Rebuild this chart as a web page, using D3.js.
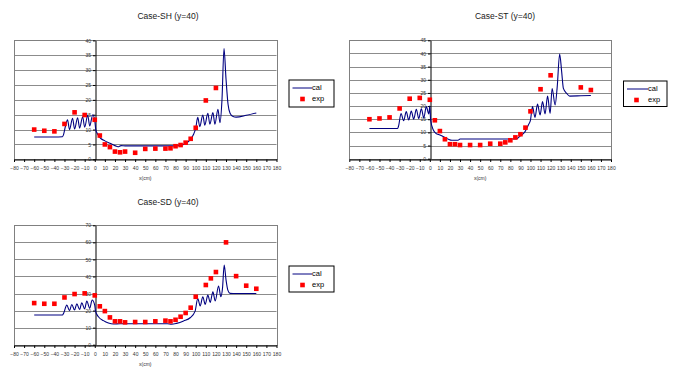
<!DOCTYPE html>
<html><head><meta charset="utf-8">
<script src="https://cdn.jsdelivr.net/npm/d3@7"></script>
<style>
body{margin:0;background:#fff}
svg{display:block;font-family:"Liberation Sans",Arial,sans-serif}
</style>
</head><body>
<svg id="chart" width="673" height="368"></svg>
<script>
// Shared axis ticks
const xTickValues = [-80,-70,-60,-50,-40,-30,-20,-10,0,10,20,30,40,50,60,70,80,90,100,110,120,130,140,150,160,170,180];
const shYTicks = [0,5,10,15,20,25,30,35,40];
const stYTicks = [0,5,10,15,20,25,30,35,40,45];
const sdYTicks = [0,10,20,30,40,50,60,70];

// Case-SH measured points
const shExpX = [-60,-50,-40,-30,-20,-10,0,5,10,15,20,25,30,40,50,60,70,75,80,85,90,95,100,110,120];
const shExpY = [10,9.6,9.4,11.9,15.8,14.9,13.3,8.0,5.0,4.1,2.6,2.35,2.6,2.2,3.5,3.6,3.6,3.7,4.4,4.8,5.6,6.9,10.6,19.8,24.0];
// Case-SH calculated profile
const shCalX = [-60,-40,-32,-31,-29,-27,-25,-22,-20,-17,-15,-12,-10,-7,-5,-2,0,1,2,4,6,10,15,20,23,26,30,60,80,85,90,95,98,100,102,104,107,109,112,114,117,119,122,124,126,128,130,132,134,137,140,150,160];
const shCalY = [7.5,7.5,7.6,8.2,11.2,13.3,10.0,13.8,10.2,14.0,10.5,14.3,10.8,14.8,11.2,15.0,13.0,10.0,9.0,7.8,7.0,6.2,5.4,4.6,4.2,4.6,4.5,4.5,4.5,4.7,5.3,6.8,8.5,10.5,14.1,11.0,14.9,11.5,15.5,11.8,15.7,11.8,16.8,12.3,20.0,37.3,27.0,18.5,15.5,14.4,14.2,14.8,15.6];

// Case-ST measured points
const stExpX = [-60,-50,-40,-30,-20,-10,0,5,10,15,20,25,30,40,50,60,70,75,80,85,90,95,100,110,120,150,160];
const stExpY = [15.0,15.3,15.7,19.1,22.8,23.1,22.4,14.6,10.5,7.4,5.5,5.5,5.2,5.2,5.2,5.7,5.7,6.2,7.0,8.1,9.3,11.8,18.0,26.4,31.7,27.1,26.1];
// Case-ST calculated profile
const stCalX = [-60,-32,-31,-28.6,-26,-23.4,-21,-18.4,-16,-13.4,-11,-8.4,-6,-3.5,-1,0,0.8,3.5,6,10,15,18.5,22,28,30,60,86,89.6,94.6,97.9,100,102,104.5,107,109.5,112,114.5,117,119.5,121.5,124.5,126.5,129,131,132.7,136,139,150,160];
const stCalY = [11.5,11.5,12.5,17.2,14.4,17.9,14.7,18.1,15.0,18.8,15.2,19.0,15.5,19.8,17.0,20.0,14.7,10.9,9.6,9.0,8.1,7.4,7.0,7.0,7.5,7.5,7.5,8.6,10.3,12.8,14.7,19.8,15.7,20.8,16.6,21.7,17.0,23.8,17.2,26.7,20.4,27.0,39.8,33.0,26.7,24.8,23.8,23.9,24.0];

// Case-SD measured points
const sdExpX = [-60,-50,-40,-30,-20,-10,0,5,10,15,20,25,30,40,50,60,70,75,80,85,90,95,100,110,115,120,130,140,150,160];
const sdExpY = [24.4,24.0,24.0,27.7,29.7,30.1,28.9,22.5,19.7,16.0,13.7,13.7,13.1,13.3,13.3,13.7,14.1,13.7,14.6,16.4,18.6,21.7,28.1,35.0,38.9,42.6,60.0,40.2,34.6,32.8];
// Case-SD calculated profile
const sdCalX = [-60,-32,-31,-27.7,-25,-22.8,-20,-17.8,-15,-12.9,-10,-7.9,-5,-2.6,0,0.7,3.6,8.6,13.5,18.5,25,60,72,76,81,88,94.5,99.4,102,104.4,107,109.4,112,114.3,117,119.3,122.6,124.9,126.5,128.2,130,131.8,134,140,150,160];
const sdCalY = [17.4,17.4,18.2,23.2,19.9,23.6,20.3,24.0,20.6,24.6,21.0,25.6,21.3,26.2,23.0,19.7,16.4,14.1,12.7,12.1,12.3,12.3,12.3,12.0,12.5,13.9,15.8,19.7,27.1,22.7,28.1,23.6,29.1,24.8,31.0,25.6,34.4,28.1,33.0,46.7,38.0,32.0,30.1,30.0,30.0,30.0];

const svg = d3.select("#chart");

function drawPanel(cfg) {
  const g = svg.append("g");
  const x = d3.scaleLinear().domain([-80, 180]).range([cfg.left, cfg.right]);
  const y = d3.scaleLinear().domain([0, cfg.yMax]).range([cfg.bottom, cfg.top]);

  // title
  g.append("text").attr("x", cfg.titleX).attr("y", cfg.titleY)
    .attr("text-anchor", "middle").attr("dominant-baseline", "middle")
    .attr("font-size", 8.5).attr("fill", "#1a1a1a").text(cfg.title);

  // horizontal gridlines
  g.append("g").selectAll("line").data(cfg.yTicks.filter(d => d > 0)).join("line")
    .attr("x1", cfg.left).attr("x2", cfg.right)
    .attr("y1", d => Math.round(y(d)) + 0.5).attr("y2", d => Math.round(y(d)) + 0.5)
    .attr("stroke", "#8c8c8c").attr("stroke-width", 1);

  // plot frame
  g.append("rect").attr("x", Math.round(cfg.left) + 0.5).attr("y", Math.round(cfg.top) + 0.5)
    .attr("width", Math.round(cfg.right) - Math.round(cfg.left))
    .attr("height", Math.round(cfg.bottom) - Math.round(cfg.top))
    .attr("fill", "none").attr("stroke", "#808080");

  // x axis along y = 0
  const xAxis = d3.axisBottom(x).tickValues(xTickValues).tickSize(2.5).tickPadding(4).tickSizeOuter(0);
  const xa = g.append("g").attr("transform", `translate(0,${Math.round(y(0)) + 0.5})`).call(xAxis);
  xa.select(".domain").attr("stroke", "#000");
  xa.selectAll(".tick line").attr("stroke", "#000");
  xa.selectAll(".tick text").attr("font-size", 5).attr("fill", "#333")
    .attr("font-family", "'Liberation Sans',Arial,sans-serif");

  // y axis along x = 0
  const yAxis = d3.axisLeft(y).tickValues(cfg.yTicks).tickSize(2.5).tickPadding(2).tickSizeOuter(0);
  const ya = g.append("g").attr("transform", `translate(${Math.round(x(0)) + 0.5},0)`).call(yAxis);
  ya.select(".domain").attr("stroke", "#000");
  ya.selectAll(".tick line").attr("stroke", "#000");
  ya.selectAll(".tick text").attr("font-size", 5).attr("fill", "#333")
    .attr("font-family", "'Liberation Sans',Arial,sans-serif");

  // axis title
  g.append("text").attr("x", x(50)).attr("y", cfg.bottom + 21)
    .attr("text-anchor", "middle").attr("font-size", 5).attr("fill", "#333").text("x(cm)");

  // calculated line (smoothed)
  const line = d3.line().x(d => x(d[0])).y(d => y(d[1])).curve(d3.curveMonotoneX);
  g.append("path").datum(cfg.calX.map((v, i) => [v, cfg.calY[i]]))
    .attr("d", line).attr("fill", "none").attr("stroke", "#000080").attr("stroke-width", 1.1);

  // measured points
  const s = 4.6;
  g.append("g").selectAll("rect").data(cfg.expX.map((v, i) => [v, cfg.expY[i]])).join("rect")
    .attr("x", d => x(d[0]) - s / 2).attr("y", d => y(d[1]) - s / 2)
    .attr("width", s).attr("height", s).attr("fill", "#ff0000");

  // legend
  const L = cfg.legend;
  const lg = g.append("g").attr("transform", `translate(${L.x},${L.y})`);
  lg.append("rect").attr("x", 0.5).attr("y", 0.5).attr("width", L.w).attr("height", L.h)
    .attr("fill", "#fff").attr("stroke", "#000");
  lg.append("line").attr("x1", 4).attr("x2", L.textX).attr("y1", 8.5).attr("y2", 8.5)
    .attr("stroke", "#000080").attr("stroke-width", 1);
  lg.append("text").attr("x", L.textX).attr("y", 8.5).attr("dominant-baseline", "middle")
    .attr("font-size", 7.5).attr("fill", "#000").text("cal");
  lg.append("rect").attr("x", L.markX - 2.3).attr("y", 19.5 - 2.3).attr("width", 4.6).attr("height", 4.6)
    .attr("fill", "#ff0000");
  lg.append("text").attr("x", L.textX).attr("y", 19.5).attr("dominant-baseline", "middle")
    .attr("font-size", 7.5).attr("fill", "#000").text("exp");
}

drawPanel({
  title: "Case-SH  (y=40)", titleX: 168, titleY: 17,
  left: 14, right: 276.5, top: 40.4, bottom: 159.3, yMax: 40, yTicks: shYTicks,
  expX: shExpX, expY: shExpY, calX: shCalX, calY: shCalY,
  legend: { x: 288.5, y: 79.5, w: 45, h: 27, textX: 23.5, markX: 14 }
});
drawPanel({
  title: "Case-ST  (y=40)", titleX: 505, titleY: 17,
  left: 349.3, right: 611, top: 40.3, bottom: 158.7, yMax: 45, yTicks: stYTicks,
  expX: stExpX, expY: stExpY, calX: stCalX, calY: stCalY,
  legend: { x: 623, y: 80.5, w: 43.5, h: 25.5, textX: 25, markX: 13.5 }
});
drawPanel({
  title: "Case-SD  (y=40)", titleX: 168, titleY: 203,
  left: 14, right: 276.5, top: 225.3, bottom: 344.7, yMax: 70, yTicks: sdYTicks,
  expX: sdExpX, expY: sdExpY, calX: sdCalX, calY: sdCalY,
  legend: { x: 288.5, y: 265.5, w: 45, h: 26, textX: 23.5, markX: 14 }
});
</script>
</body></html>
